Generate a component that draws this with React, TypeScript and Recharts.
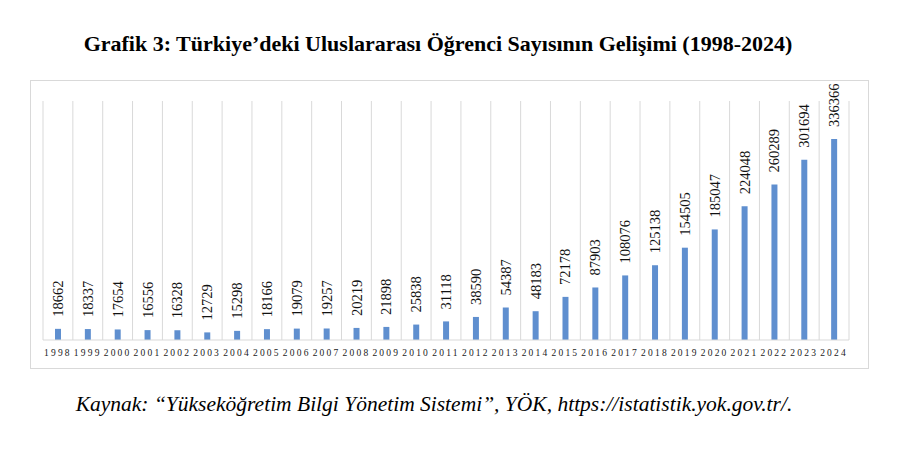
import { BarChart, Bar, XAxis, YAxis, CartesianGrid, LabelList } from "recharts";

const years = [
  "1998", "1999", "2000", "2001", "2002", "2003", "2004", "2005", "2006",
  "2007", "2008", "2009", "2010", "2011", "2012", "2013", "2014", "2015",
  "2016", "2017", "2018", "2019", "2020", "2021", "2022", "2023", "2024",
];
const students = [
  18662, 18337, 17654, 16556, 16328, 12729, 15298, 18166, 19079,
  19257, 20219, 21898, 25838, 31118, 38590, 54387, 48183, 72178,
  87903, 108076, 125138, 154505, 185047, 224048, 260289, 301694, 336366,
];

const title = "Grafik 3: Türkiye’deki Uluslararası Öğrenci Sayısının Gelişimi (1998-2024)";
const source = "Kaynak: “Yükseköğretim Bilgi Yönetim Sistemi”, YÖK, https://istatistik.yok.gov.tr/.";

const data = years.map((y, i) => ({ year: y, value: students[i] }));

const serif = "'Liberation Serif', 'Times New Roman', serif";
const BLUE = "#5f8fcf";
const GRID = "#d9d9d9";

function ValueLabel(props: any) {
  const { x, y, width, value } = props;
  const cx = x + width / 2;
  const cy = y - 12;
  return (
    <text
      x={cx}
      y={cy}
      transform={`rotate(-90 ${cx} ${cy})`}
      textAnchor="start"
      dominantBaseline="central"
      fontSize={14.5}
      fontFamily={serif}
      fill="#111"
    >
      {value}
    </text>
  );
}

export default function App() {
  return (
    <div style={{ position: "relative", width: 900, height: 454, background: "#fff", fontFamily: serif }}>
      <style>{"body{margin:0}"}</style>
      <div
        style={{
          position: "absolute",
          top: 31,
          left: 0,
          width: 876,
          textAlign: "center",
          fontWeight: "bold",
          fontSize: 22,
          whiteSpace: "nowrap",
          color: "#000",
        }}
      >
        {title}
      </div>
      <div
        style={{
          position: "absolute",
          left: 30,
          top: 80,
          width: 837,
          height: 287,
          border: `1px solid ${GRID}`,
        }}
      />
      <div style={{ position: "absolute", left: 0, top: 0 }}>
        <BarChart
          width={900}
          height={454}
          data={data}
          margin={{ top: 101, right: 51, bottom: 84, left: 43 }}
        >
          <CartesianGrid
            horizontal={false}
            stroke={GRID}
            verticalCoordinatesGenerator={({ offset }: any) =>
              Array.from({ length: years.length + 1 }, (_, i) => offset.left + (i * offset.width) / years.length)
            }
          />
          <XAxis
            dataKey="year"
            height={30}
            axisLine={{ stroke: GRID }}
            tickLine={false}
            tickSize={7}
            interval={0}
            tick={{ fontSize: 9.5, fill: "#222", fontFamily: serif, letterSpacing: 2.2 }}
          />
          <YAxis hide domain={[0, 400000]} />
          <Bar dataKey="value" fill={BLUE} barSize={6} isAnimationActive={false}>
            <LabelList dataKey="value" content={<ValueLabel />} />
          </Bar>
        </BarChart>
      </div>
      <div
        style={{
          position: "absolute",
          top: 392,
          left: 0,
          width: 868,
          textAlign: "center",
          fontStyle: "italic",
          fontSize: 21.5,
          whiteSpace: "nowrap",
          color: "#000",
        }}
      >
        {source}
      </div>
    </div>
  );
}
